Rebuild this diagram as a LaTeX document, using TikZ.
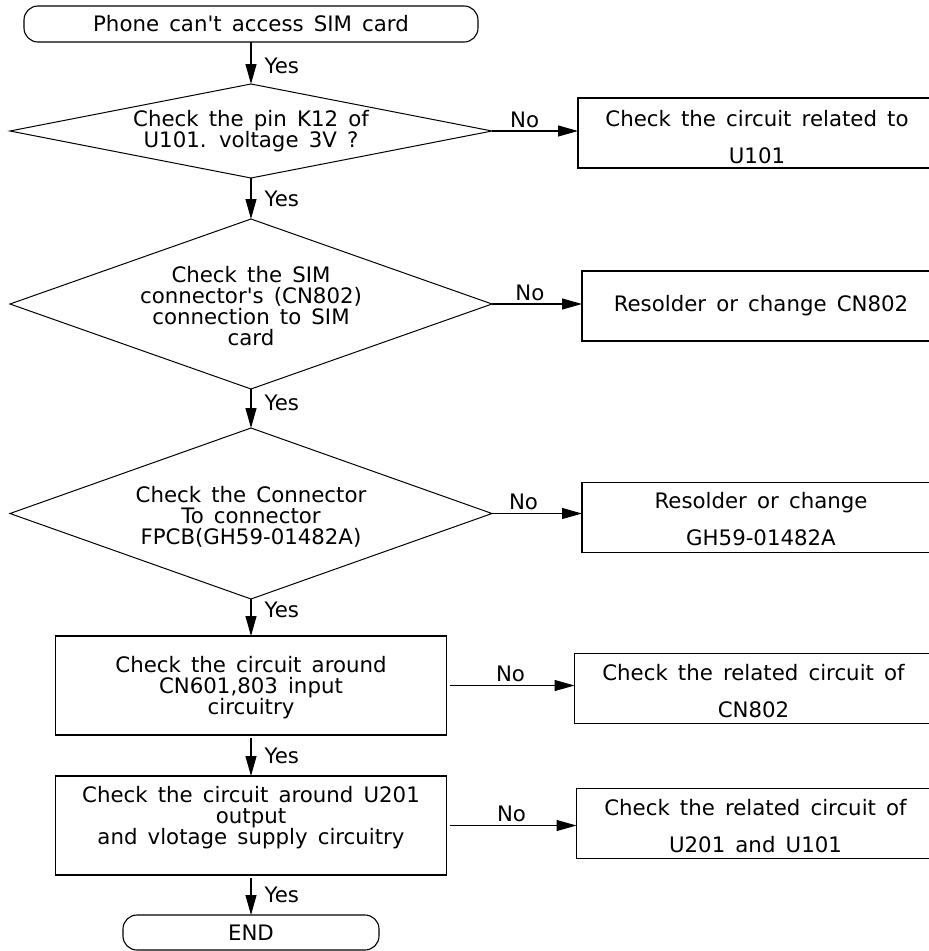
\documentclass[tikz,border=0pt]{standalone}
\usepackage{fontspec}
\setmainfont{DejaVu Sans}[WordSpace=1.5]
\usetikzlibrary{positioning, arrows.meta, shapes.geometric}

\begin{document}
\begin{tikzpicture}[
    x=1pt, y=1pt,
    font=\fontsize{21.3}{21}\selectfont,
    termnode/.style={draw, line width=1.1pt, rectangle, rounded corners=14pt, minimum height=36pt, inner sep=0pt, outer sep=0pt},
    testnode/.style={draw, line width=1pt, diamond, minimum width=482pt, inner sep=0pt, outer sep=0pt},
    worknode/.style={draw, line width=1.3pt, rectangle, minimum width=391pt, minimum height=99pt, inner sep=0pt, outer sep=0pt},
    fixnode/.style={draw, line width=1.3pt, rectangle, minimum width=358pt, minimum height=70pt, inner sep=0pt, outer sep=0pt},
    txt/.style={align=center, inner sep=0pt},
    fixtxt/.style={align=center, inner sep=0pt, font=\fontsize{21.3}{37}\selectfont},
    yeslbl/.style={right, inner sep=2pt, xshift=11pt},
    nolbl/.style={above, inner sep=3pt},
    arr/.style={-{Triangle[length=20pt, width=11pt]}, line width=1.1pt}
]
\useasboundingbox (0,0) rectangle (929,-951);
\clip (0,0) rectangle (929,-951);

% Main column
\node[termnode, minimum width=454pt] (start) at (251,-24) {Phone can\textquotesingle t access SIM card};

\node[testnode, minimum height=94pt, below=42pt of start] (d1) {};
\node[txt, font=\fontsize{21.3}{18}\selectfont] (d1txt) at (d1) {Check the pin K12 of\\U101. voltage 3V ?};

\node[testnode, minimum height=170pt, below=41pt of d1] (d2) {};
\node[txt, yshift=-2pt] (d2txt) at (d2) {Check the SIM\\connector\textquotesingle s (CN802)\\connection to SIM\\card};

\node[testnode, minimum height=171pt, below=39pt of d2] (d3) {};
\node[txt, yshift=-3pt] (d3txt) at (d3) {Check the Connector\\To connector\\FPCB(GH59-01482A)};

\node[worknode, below=37pt of d3] (chk1) {};
\node[txt, yshift=-2pt] (chk1txt) at (chk1) {Check the circuit around\\CN601,803 input\\circuitry};

\node[worknode, below=41pt of chk1] (chk2) {};
\node[txt, yshift=8pt] (chk2txt) at (chk2) {Check the circuit around U201\\output\\ and vlotage supply circuitry};

\node[termnode, minimum width=256pt, minimum height=35pt, below=40pt of chk2] (stop) {END};

% Repair boxes
\node[fixnode, right=86pt of d1, yshift=-2pt] (fix1) {};
\node[fixtxt, yshift=-4pt] (fix1txt) at (fix1) {Check the circuit related to\\U101};
\node[fixnode, right=90pt of d2, yshift=-2pt] (fix2) {};
\node[fixtxt] (fix2txt) at (fix2) {Resolder or change CN802};
\node[fixnode, right=90pt of d3, yshift=-4pt] (fix3) {};
\node[fixtxt, yshift=-2pt] (fix3txt) at (fix3) {Resolder or change\\GH59-01482A};
\node[fixnode, right=128pt of chk1, yshift=-3pt] (fix4) {};
\node[fixtxt, yshift=-3pt] (fix4txt) at (fix4) {Check the related circuit of\\CN802};
\node[fixnode, right=130pt of chk2, yshift=2pt] (fix5) {};
\node[fixtxt, yshift=-3pt] (fix5txt) at (fix5) {Check the related circuit of\\U201 and U101};

% Yes arrows
\draw[arr] (start) -- node[yeslbl, pos=0.58] {Yes} (d1);
\draw[arr] (d1) -- node[yeslbl, pos=0.5] {Yes} (d2);
\draw[arr] (d2) -- node[yeslbl, pos=0.35] {Yes} (d3);
\draw[arr] (d3) -- node[yeslbl, pos=0.3] {Yes} (chk1);
\draw[arr, shorten <=3pt] (chk1) -- node[yeslbl, pos=0.5] {Yes} (chk2);
\draw[arr, shorten <=3pt] (chk2) -- node[yeslbl, pos=0.5] {Yes} (stop);

% No arrows
\draw[arr] (d1.east) -- node[nolbl, pos=0.38] {No} (d1.east -| fix1.west);
\draw[arr] (d2.east) -- node[nolbl, pos=0.42] {No} (d2.east -| fix2.west);
\draw[arr] (d3.east) -- node[nolbl, pos=0.35] {No} (d3.east -| fix3.west);
\draw[arr, shorten <=3pt] (chk1.east) -- node[nolbl, pos=0.5] {No} (chk1.east -| fix4.west);
\draw[arr, shorten <=3pt] (chk2.east) -- node[nolbl, pos=0.5] {No} (chk2.east -| fix5.west);

\end{tikzpicture}
\end{document}
